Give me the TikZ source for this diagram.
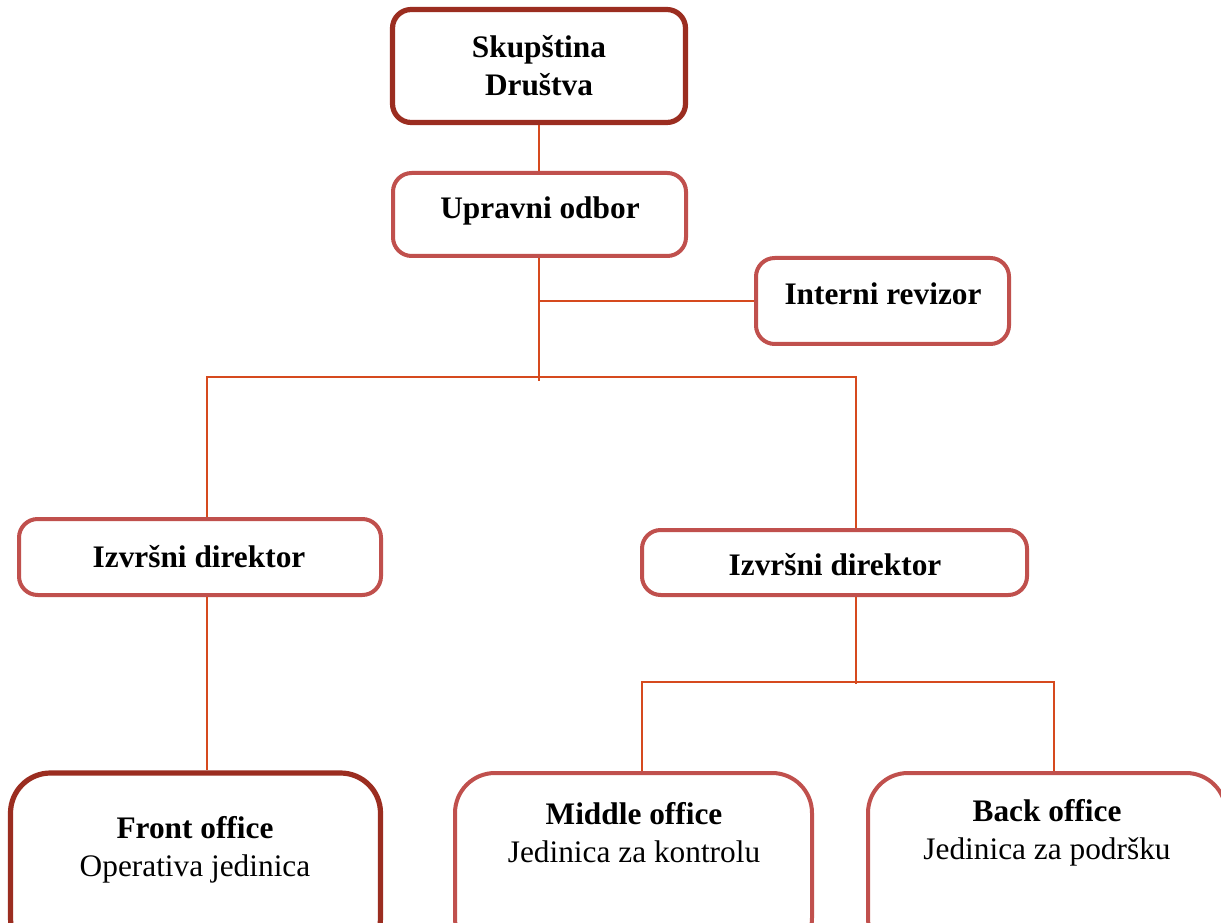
\documentclass[tikz,border=0pt]{standalone}
\usepackage{fontspec}
\setmainfont{Liberation Serif}
\definecolor{darkbox}{RGB}{155,45,32}
\definecolor{boxred}{RGB}{192,80,77}
\definecolor{conn}{RGB}{214,74,30}
\tikzset{
  orgbox/.style 2 args={draw=boxred, line width=3pt, rounded corners=14pt, fill=white,
    minimum width={#1*0.75pt}, minimum height={#2*0.75pt}, inner sep=0pt},
  darkorg/.style={draw=darkbox, line width=3.9pt},
  bigcorner/.style={rounded corners=30pt},
  lbl/.style={font=\fontsize{23.5}{28.5}\selectfont, align=center, inner sep=0pt},
  link/.style={draw=conn, line width=1.5pt}
}
\begin{document}
\begin{tikzpicture}[x=0.75pt, y=-0.75pt]
\useasboundingbox (0,0) rectangle (1221,923);
\clip (0,0) rectangle (1221,923);
\fill[white] (0,0) rectangle (1221,923);

% coordinates for junctions
\coordinate (jA) at (539,381);
\coordinate (busL) at (207,377);
\coordinate (busR) at (856,377);
\coordinate (jB) at (856,684);
\coordinate (bus2L) at (642,682);
\coordinate (bus2R) at (1054,682);

% boxes
\node[orgbox={293}{113}, darkorg] (skup) at (539,66) {};
\node[orgbox={293}{83}] (uprav) at (539.5,214.5) {};
\node[orgbox={253}{86}] (rev) at (882.5,301) {};
\node[orgbox={362}{76}] (izl) at (200,557) {};
\node[orgbox={385}{65}] (izr) at (834.5,562.5) {};
\node[orgbox={370}{185}, darkorg, bigcorner] (front) at (195.5,865.5) {};
\node[orgbox={357}{185}, bigcorner] (mid) at (633.5,865.5) {};
\node[orgbox={358}{185}, bigcorner] (back) at (1047,865.5) {};

% connectors
\draw[link] (skup.south) -- (skup.south |- uprav.north);
\draw[link] (uprav.south -| jA) -- (jA);
\draw[link] (jA |- rev.west) -- (rev.west);
\draw[link] (busL |- izl.north) -- (busL) -- (busR) -- (busR |- izr.north);
\draw[link] (busL |- izl.south) -- (busL |- front.north);
\draw[link] (busR |- izr.south) -- (jB);
\draw[link] (bus2L |- mid.north) -- (bus2L) -- (bus2R) -- (bus2R |- back.north);

% labels
\node[lbl] (tskup) at (539,66) {\textbf{Skupština}\\\textbf{Društva}};
\node[lbl] (tuprav) at (540,211) {\textbf{Upravni odbor}};
\node[lbl] (trev) at (883,294) {\textbf{Interni revizor}};
\node[lbl] (tizl) at (199,557) {\textbf{Izvršni direktor}};
\node[lbl] (tizr) at (835,565) {\textbf{Izvršni direktor}};
\node[lbl] (tfront) at (195,850) {\textbf{Front office}\\Operativa jedinica};
\node[lbl] (tmid) at (634,833) {\textbf{Middle office}\\Jedinica za kontrolu};
\node[lbl] (tback) at (1047,833) {\textbf{Back office}\\Jedinica za podršku};
\end{tikzpicture}
\end{document}
